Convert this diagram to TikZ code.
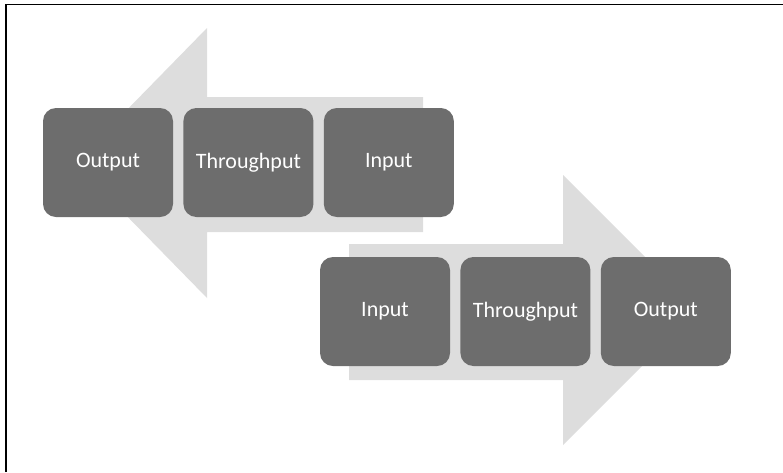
\documentclass[tikz,border=0pt]{standalone}
\usepackage{fontspec}
\setmainfont{Carlito}
\usetikzlibrary{positioning}
\definecolor{boxgray}{RGB}{109,109,109}
\definecolor{arrowgray}{RGB}{221,221,221}
\tikzset{
  stage/.style={rectangle, rounded corners=13pt, fill=boxgray, text=white,
    minimum width=130pt, minimum height=109pt, inner sep=0pt,
    font=\fontsize{22}{26}\selectfont},
  flow/.style={fill=arrowgray}
}
\begin{document}
\begin{tikzpicture}[x=1pt,y=-1pt]
  \useasboundingbox (0,0) rectangle (783,472);
  % frame (top and left only)
  \draw[line width=1.2pt] (6,472) -- (6,4.5) -- (783,4.5);

  % big arrows behind the boxes
  \fill[flow] (423,97) -- (207,97) -- (207,28) -- (75,163) -- (207,298)
    -- (207,232) -- (423,232) -- cycle;
  \fill[flow] (349,244) -- (563,244) -- (563,175) -- (698,310) -- (563,445)
    -- (563,380) -- (349,380) -- cycle;

  % top row: right to left
  \node[stage] (out1) at (108,162.5) {Output};
  \node[stage, right=10pt of out1] (thru1) {Throughput};
  \node[stage, right=10pt of thru1] (in1) {Input};

  % bottom row: left to right
  \node[stage] (in2) at (385,311.5) {Input};
  \node[stage, right=10pt of in2] (thru2) {Throughput};
  \node[stage, right=10pt of thru2] (out2) {Output};
\end{tikzpicture}
\end{document}
